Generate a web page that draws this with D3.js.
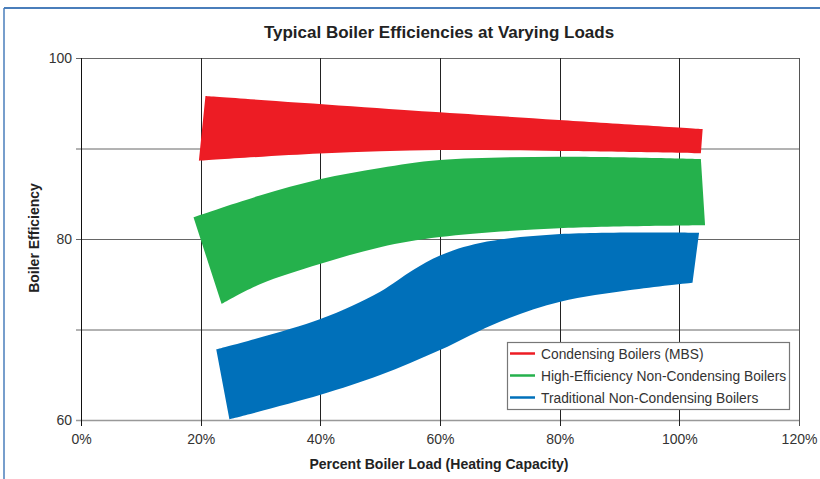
<!DOCTYPE html>
<html>
<head>
<meta charset="utf-8">
<script src="https://cdn.jsdelivr.net/npm/d3@7"></script>
<style>
  body { margin: 0; background: #fff; }
  svg { display: block; font-family: "Liberation Sans", Arial, Helvetica, sans-serif; }
</style>
</head>
<body>
<svg id="chart"></svg>
<script>
// --- data ----------------------------------------------------------------
var seriesNames = ["Condensing Boilers (MBS)",
                   "High-Efficiency Non-Condensing Boilers",
                   "Traditional Non-Condensing Boilers"];

// each band = upper edge + lower edge, [load %, efficiency]
var condensingUpper = [[20.8, 95.8], [60, 94.0], [79.9, 93.15], [103.9, 92.15]];
var condensingLower = [[19.7, 88.65], [39.9, 89.45], [60, 89.83], [79.9, 89.72], [103.6, 89.47]];

var highEffUpper = [[18.8, 82.4], [29.9, 84.8], [39.9, 86.6], [50, 87.85], [60, 88.73], [79.9, 89.09], [103.6, 88.84]];
var highEffLower = [[23.5, 72.82], [29.9, 75.0], [39.9, 77.24], [50, 79.1], [60, 80.22], [79.9, 81.18], [104.3, 81.51]];

var tradUpper = [[22.6, 67.81], [39.9, 71.13], [50, 74.18], [55.5, 76.57], [60, 78.18], [66.7, 79.56], [80.1, 80.55], [103.3, 80.7]];
var tradLower = [[24.8, 60.08], [39.9, 62.76], [50, 64.97], [60, 67.73], [70, 70.86], [80.1, 73.07], [91.8, 74.36], [102.2, 75.17]];

var xTicks = [0, 20, 40, 60, 80, 100, 120];
var yTicks = [60, 70, 80, 90, 100];
var yTickLabels = [60, 80, 100];

var bandColors = ["#ed1c24", "#25b14c", "#0070ba"];

// --- setup ------------------------------------------------------------------
var width = 820, height = 479;
var margin = {top: 58, right: 21, bottom: 59, left: 81};

var svg = d3.select("svg#chart")
    .attr("width", width)
    .attr("height", height);

// blue frame (only top + left visible)
svg.append("line").attr("x1", 4).attr("y1", 8).attr("x2", width).attr("y2", 8)
    .style("stroke", "#4a7ebb").attr("stroke-width", 2);
svg.append("line").attr("x1", 4).attr("y1", 8).attr("x2", 4).attr("y2", height)
    .style("stroke", "#4a7ebb").attr("stroke-width", 1.5);

var x = d3.scaleLinear().domain([0, 120]).range([margin.left, width - margin.right]);
var y = d3.scaleLinear().domain([60, 100]).range([height - margin.bottom, margin.top]);
var color = d3.scaleOrdinal().domain(seriesNames).range(bandColors);

var bands = [
    {name: seriesNames[0], upper: condensingUpper, lower: condensingLower},
    {name: seriesNames[1], upper: highEffUpper, lower: highEffLower},
    {name: seriesNames[2], upper: tradUpper, lower: tradLower}
];

// --- grid -------------------------------------------------------------------
var grid = svg.append("g").attr("id", "grid");

grid.selectAll("line.h").data(yTicks).enter()
    .append("line").attr("class", "h")
    .attr("x1", x(0) - 5).attr("x2", x(120))
    .attr("y1", function(d) { return y(d) + 0.5; })
    .attr("y2", function(d) { return y(d) + 0.5; })
    .style("stroke", function(d) { return d == 60 ? "#999" : "#666"; })
    .attr("stroke-width", function(d) { return d == 60 ? 1.5 : 1; });

grid.selectAll("line.v").data(xTicks).enter()
    .append("line").attr("class", "v")
    .attr("x1", function(d) { return Math.round(x(d)) + 0.5; })
    .attr("x2", function(d) { return Math.round(x(d)) + 0.5; })
    .attr("y1", y(100)).attr("y2", y(60) + 6)
    .style("stroke", function(d) { return d == 120 ? "#555" : "#222"; })
    .attr("stroke-width", 1);

// --- bands ------------------------------------------------------------------
var edge = d3.line()
    .x(function(d) { return x(d[0]); })
    .y(function(d) { return y(d[1]); })
    .curve(d3.curveCatmullRom.alpha(0.5));

svg.append("g").attr("id", "bands")
    .selectAll("path").data(bands).enter()
    .append("path")
    .attr("d", function(d) {
        var top = edge(d.upper);
        var bottom = edge(d.lower.slice().reverse()).replace(/^M/, "L");
        return top + bottom + "Z";
    })
    .style("fill", function(d) { return color(d.name); });

// --- axes -------------------------------------------------------------------
var xAxis = d3.axisBottom(x).tickValues(xTicks).tickSize(0).tickPadding(14)
    .tickFormat(function(d) { return d + "%"; });
var gx = svg.append("g").attr("transform", "translate(0," + y(60) + ")").call(xAxis);
gx.select(".domain").remove();
gx.selectAll("text").style("font-size", "14px").style("fill", "#333")
    .style("font-family", "'Liberation Sans', Arial, sans-serif");

var yAxis = d3.axisLeft(y).tickValues(yTickLabels).tickSize(0).tickPadding(9);
var gy = svg.append("g").attr("transform", "translate(" + x(0) + ",0)").call(yAxis);
gy.select(".domain").remove();
gy.selectAll("text").style("font-size", "14px").style("fill", "#333")
    .style("font-family", "'Liberation Sans', Arial, sans-serif");

// axis lines on top
svg.append("line").attr("x1", x(0) + 0.5).attr("x2", x(0) + 0.5)
    .attr("y1", y(100)).attr("y2", y(60) + 6).style("stroke", "#111");

// --- titles -----------------------------------------------------------------
svg.append("text")
    .attr("x", 439).attr("y", 38)
    .style("text-anchor", "middle").style("font-weight", "bold")
    .style("font-size", "17px").style("fill", "#222")
    .text("Typical Boiler Efficiencies at Varying Loads");

svg.append("text")
    .attr("x", 439).attr("y", 469)
    .style("text-anchor", "middle").style("font-weight", "bold")
    .style("font-size", "14px").style("fill", "#222")
    .text("Percent Boiler Load (Heating Capacity)");

svg.append("text")
    .attr("transform", "translate(39,238) rotate(-90)")
    .style("text-anchor", "middle").style("font-weight", "bold")
    .style("font-size", "14px").style("fill", "#222")
    .text("Boiler Efficiency");

// --- legend -----------------------------------------------------------------
var legend = svg.append("g").attr("id", "legend").attr("transform", "translate(507,342)");
legend.append("rect")
    .attr("x", 0.5).attr("y", 0.5).attr("width", 282).attr("height", 67)
    .style("fill", "#fff").style("stroke", "#777").attr("stroke-width", 1.2);

var rows = legend.selectAll("g.row").data(seriesNames).enter()
    .append("g").attr("class", "row")
    .attr("transform", function(d, i) { return "translate(0," + (11.5 + i * 22) + ")"; });
rows.append("line")
    .attr("x1", 3).attr("x2", 28).attr("y1", 0).attr("y2", 0)
    .style("stroke", function(d) { return color(d); })
    .attr("stroke-width", 2.5);
rows.append("text")
    .attr("x", 34).attr("y", 5)
    .style("font-size", "13.8px").style("fill", "#333")
    .text(function(d) { return d; });
</script>
</body>
</html>
